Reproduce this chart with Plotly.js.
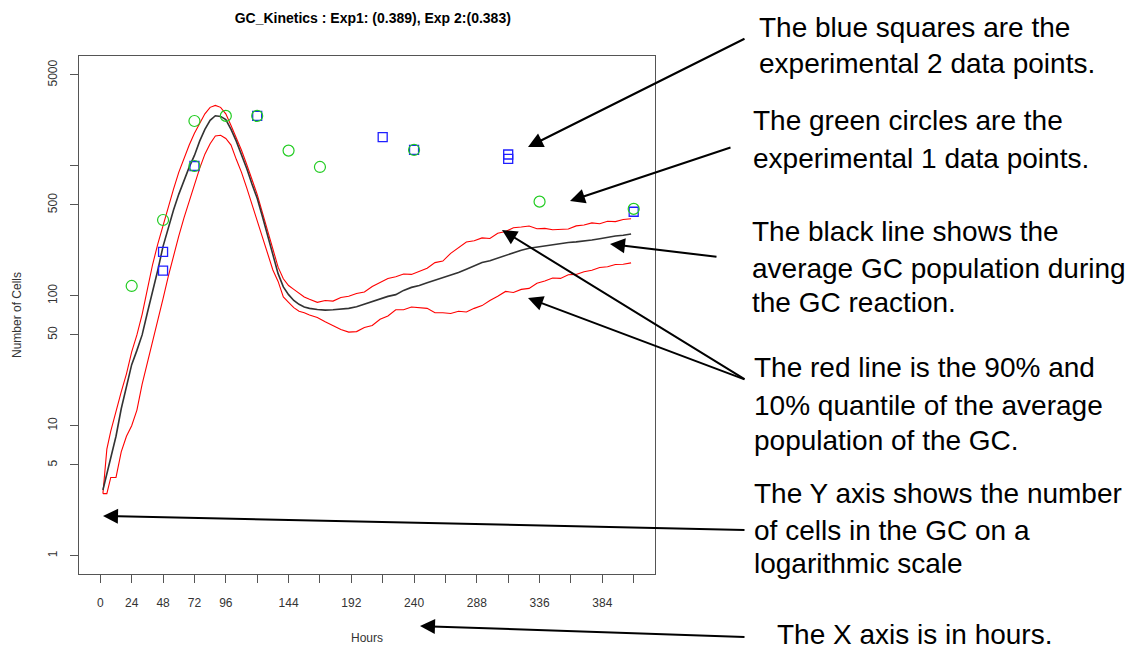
<!DOCTYPE html>
<html>
<head>
<meta charset="utf-8">
<script src="https://cdn.plot.ly/plotly-3.0.1.min.js"></script>
<style>
  html, body { margin: 0; padding: 0; background: #fff; }
  #chart { width: 1141px; height: 653px; }
</style>
</head>
<body>
<div id="chart"></div>
<script>
// Simulation time grid (hours) shared by the mean and quantile curves
const hours = [2, 5, 8, 12, 16, 20, 24, 28, 32, 36, 40, 44, 48, 52, 56, 60, 64, 68, 72, 76,
  80, 84, 88, 92, 96, 100, 104, 108, 112, 116, 120, 124, 128, 132, 136, 140, 144, 148, 152, 156,
  160, 166, 172, 178, 184, 190, 196, 202, 208, 214, 220, 226, 232, 238, 244, 250, 256, 262, 268, 274,
  280, 286, 292, 298, 304, 310, 316, 322, 328, 334, 340, 346, 352, 358, 364, 370, 376, 382, 388, 394,
  400, 406];

// Average GC population
const meanCells = [3.2, 4.3, 5.5, 8.3, 13.5, 20.4, 29.5, 38, 50, 74, 107, 158, 240, 339, 457, 603, 776, 977, 1202, 1549,
  1905, 2239, 2427, 2399, 2265, 1905, 1549, 1230, 955, 724, 562, 407, 288, 204, 148, 117, 102, 92, 86, 82,
  80, 78.5, 77.6, 78, 78.9, 80, 82.2, 86, 89.7, 94.4, 98.9, 102, 110, 116, 120, 126, 132, 138, 143, 151,
  160, 170, 180, 186, 195, 204, 212, 224, 232, 237, 243, 248, 251, 257, 260, 263, 269, 275, 282, 288,
  292, 299];

// 90% quantile
const q90Cells = [3.0, 6.6, 9.1, 13.2, 18.2, 25.1, 37, 50, 72, 112, 174, 251, 347, 490, 661, 891, 1148, 1445, 1778, 2138,
  2512, 2818, 2917, 2818, 2512, 2042, 1660, 1318, 1023, 776, 603, 437, 316, 224, 166, 135, 120, 112, 104, 98,
  94, 89, 92, 91, 97, 99, 104, 107, 118, 126, 136, 140, 147, 146, 155, 163, 180, 185, 212, 236,
  259, 265, 279, 276, 303, 312, 334, 338, 344, 328, 330, 322, 324, 326, 345, 350, 364, 358, 374, 372,
  386, 391];

// 10% quantile
const q10Cells = [3.0, 3.0, 4.0, 4.0, 6.3, 8.3, 10.0, 13.2, 20.9, 30.2, 43.7, 63, 95, 141, 204, 288, 398, 537, 724, 955,
  1230, 1479, 1698, 1718, 1622, 1445, 1122, 891, 676, 501, 372, 275, 209, 158, 129, 98, 89, 81, 76, 74,
  71, 68, 63, 59, 55, 52.5, 53, 57, 59, 66, 70, 78, 78, 82, 81, 80, 74, 74, 73, 76,
  75, 80, 84, 92, 99, 108, 106, 112, 114, 125, 130, 137, 136, 145, 146, 153, 157, 165, 167, 174,
  175, 179];

// Experiment 1 measurements (green circles)
const exp1Hours = [24, 48, 72, 72, 96, 120, 144, 168, 240, 336, 408];
const exp1Cells = [119, 383, 2213, 997, 2421, 2421, 1309, 980, 1324, 530, 466];

// Experiment 2 measurements (blue squares)
const exp2Hours = [48, 48, 72, 120, 216, 240, 312, 312, 408];
const exp2Cells = [218, 156, 997, 2421, 1660, 1324, 1130, 1222, 443];

// Axis ticks
const hourTicks = [0, 24, 48, 72, 96, 120, 144, 168, 192, 216, 240, 264, 288, 312, 336, 360, 384, 408];
const hourLabels = ['0', '24', '48', '72', '96', '', '144', '', '192', '', '240', '', '288', '', '336', '', '384', ''];
const cellTicks = [1, 5, 10, 50, 100, 500, 1000, 5000];
const cellLabels = ['1', '5', '10', '50', '100', '500', '', '5000'];

const chartTitle = 'GC_Kinetics : Exp1: (0.389), Exp 2:(0.383)';

// Explanatory notes on the right-hand side, one entry per text line
const noteLines = [
  'The blue squares are the', 'experimental 2 data points.',
  'The green circles are the', 'experimental 1 data points.',
  'The black line shows the', 'average GC population during', 'the GC reaction.',
  'The red line is the 90% and', '10% quantile of the average', 'population of the GC.',
  'The Y axis shows the number', 'of cells in the GC on a', 'logarithmic scale',
  'The X axis is in hours.'
];

// ---- layout geometry (pixels) ----
const W = 1141, H = 653;
const M = { l: 79, r: 486, t: 56, b: 79 };
const plotW = W - M.l - M.r, plotH = H - M.t - M.b;
const px = x => (x - M.l) / plotW;
const py = y => (H - M.b - y) / plotH;

const notePos = [
  [757, 27], [757, 64],
  [751, 121], [751, 158],
  [750, 231], [750, 268], [750, 302],
  [752, 367], [752, 405], [752, 440],
  [752, 493], [752, 530], [752, 563],
  [775, 634]
];

// arrows: [headX, headY, tailX, tailY]
const arrows = [
  [528, 147, 746, 38],
  [570, 201, 732, 147],
  [610, 244, 718, 257],
  [502, 230, 746, 380],
  [528, 298, 746, 380],
  [103, 516, 746, 530],
  [420, 626, 746, 637]
];

const FONT = 'Liberation Sans, Arial, Helvetica, sans-serif';

const traces = [
  { x: hours, y: q90Cells, mode: 'lines', line: { color: '#ff0000', width: 1.1 }, hoverinfo: 'skip' },
  { x: hours, y: q10Cells, mode: 'lines', line: { color: '#ff0000', width: 1.1 }, hoverinfo: 'skip' },
  { x: hours, y: meanCells, mode: 'lines', line: { color: '#333333', width: 1.6 }, hoverinfo: 'skip' },
  { x: exp2Hours, y: exp2Cells, mode: 'markers',
    marker: { symbol: 'square-open', size: 9, color: '#1f1fff', line: { width: 1.3 } } },
  { x: exp1Hours, y: exp1Cells, mode: 'markers',
    marker: { symbol: 'circle-open', size: 11, color: '#22cc22', line: { width: 1.2 } } }
];

const annotations = [];
noteLines.forEach((t, i) => {
  annotations.push({
    xref: 'paper', yref: 'paper', x: px(notePos[i][0]), y: py(notePos[i][1]),
    xanchor: 'left', yanchor: 'middle', showarrow: false, text: t, align: 'left',
    font: { family: FONT, size: 28, color: '#000' }
  });
});
arrows.forEach(a => {
  annotations.push({
    xref: 'paper', yref: 'paper', x: px(a[0]), y: py(a[1]),
    axref: 'pixel', ayref: 'pixel', ax: a[2] - a[0], ay: a[3] - a[1],
    text: '', showarrow: true, arrowhead: 2, arrowsize: 1.5, arrowwidth: 2, arrowcolor: '#000'
  });
});

const axisFont = { family: FONT, size: 12, color: '#333' };

const layout = {
  width: W, height: H,
  margin: M,
  paper_bgcolor: '#fff', plot_bgcolor: '#fff',
  showlegend: false,
  title: {
    text: '<b>' + chartTitle + '</b>',
    font: { family: FONT, size: 14, color: '#000' },
    xref: 'paper', x: 0.51, xanchor: 'center',
    yref: 'container', y: 1 - 18 / H, yanchor: 'middle'
  },
  xaxis: {
    range: [-16.3, 424.3],
    tickmode: 'array', tickvals: hourTicks, ticktext: hourLabels,
    ticks: 'outside', ticklen: 8, tickwidth: 1, tickcolor: '#555',
    ticklabelstandoff: 10,
    showline: true, linecolor: '#555', linewidth: 1, mirror: true,
    showgrid: false, zeroline: false,
    tickfont: axisFont,
    title: { text: 'Hours', font: axisFont, standoff: 24 }
  },
  yaxis: {
    type: 'log',
    range: [-0.141, 3.845],
    tickmode: 'array', tickvals: cellTicks, ticktext: cellLabels,
    tickangle: -90,
    ticks: 'outside', ticklen: 8, tickwidth: 1, tickcolor: '#555',
    ticklabelstandoff: 8,
    showline: true, linecolor: '#555', linewidth: 1, mirror: true,
    showgrid: false, zeroline: false,
    tickfont: axisFont,
    title: { text: 'Number of Cells', font: axisFont, standoff: 22 }
  },
  annotations: annotations
};

Plotly.newPlot('chart', traces, layout, { staticPlot: true, displayModeBar: false });
</script>
</body>
</html>
